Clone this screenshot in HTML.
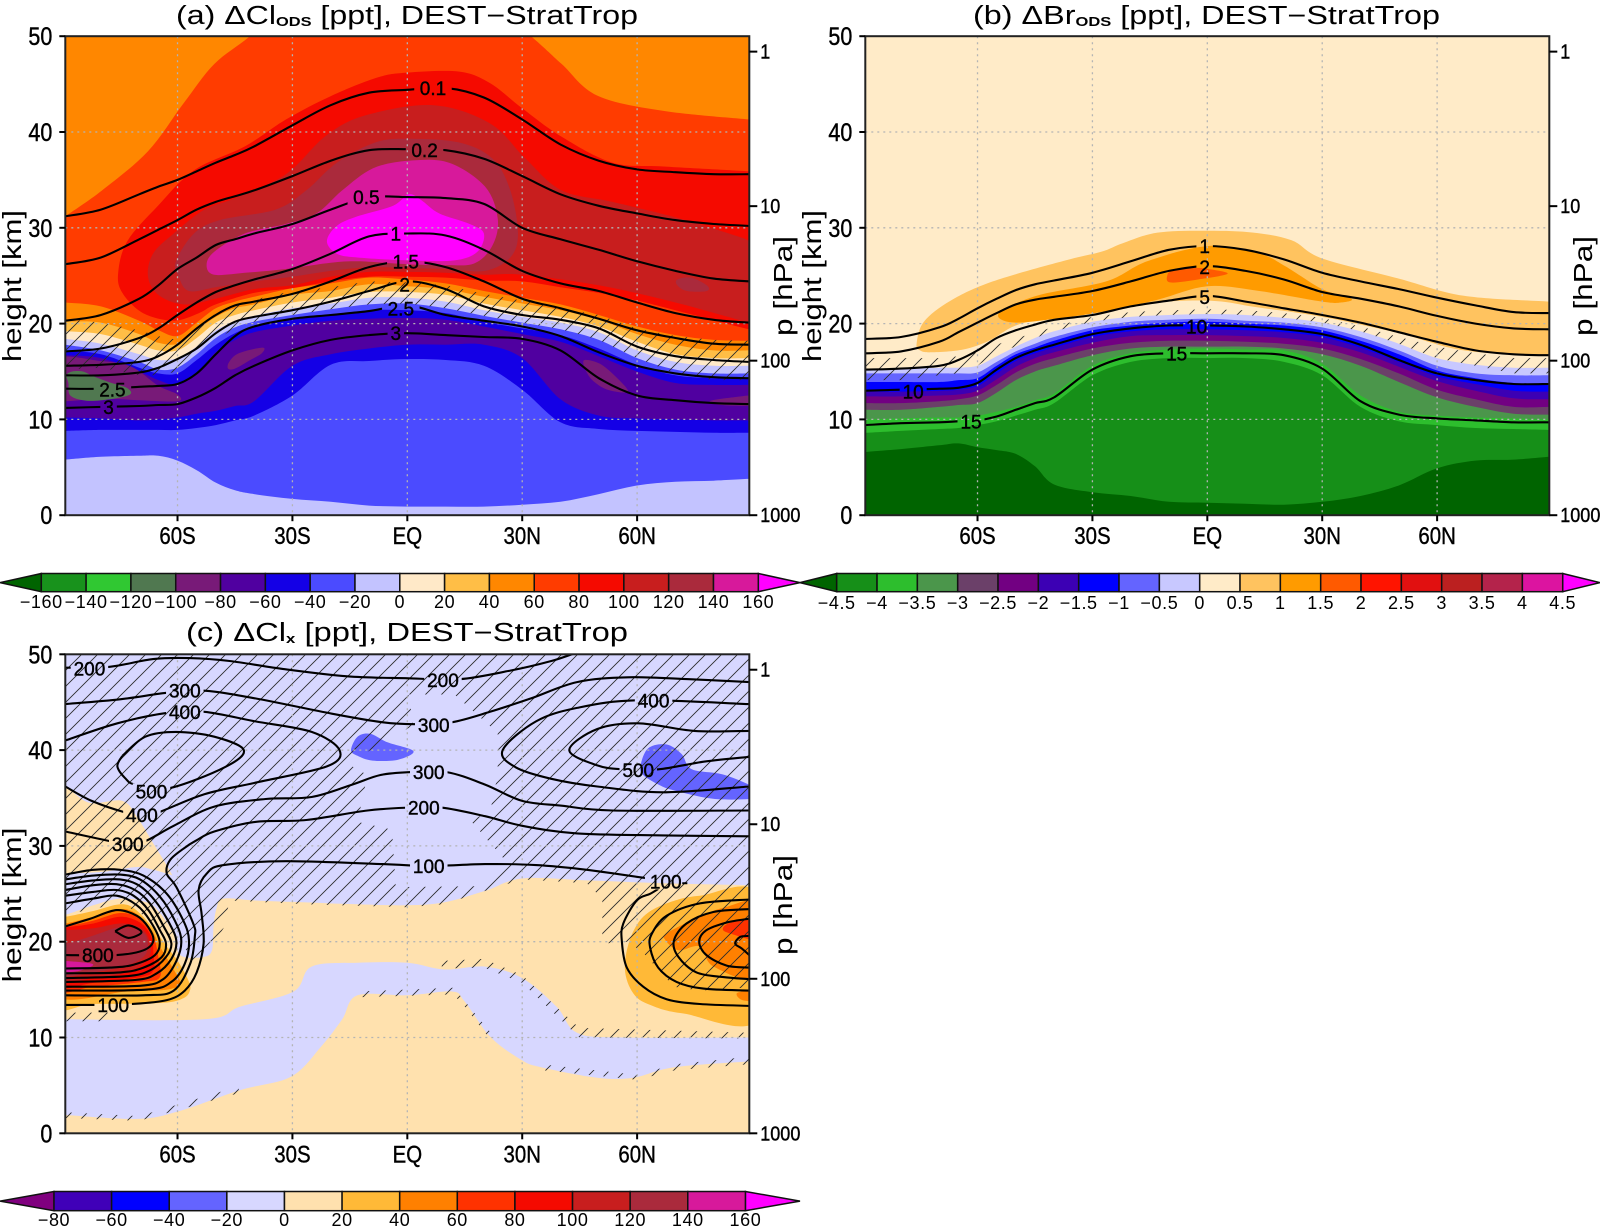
<!DOCTYPE html>
<html lang="en">
<head>
<meta charset="utf-8">
<title>Zonal mean chlorine and bromine differences, DEST minus StratTrop</title>
<style>
html,body{margin:0;padding:0;background:#fff;}
svg{display:block;font-family:"Liberation Sans",sans-serif;}
</style>
</head>
<body>
<svg id="fig" xmlns="http://www.w3.org/2000/svg" width="1600" height="1227" viewBox="0 0 1600 1227">
  <rect width="1600" height="1227" fill="#fff"/>
  <defs>
    <pattern id="hatch" patternUnits="userSpaceOnUse" width="16" height="16">
      <path d="M-1,1 L1,-1 M0,16 L16,0 M15,17 L17,15" stroke="#2a2a2a" stroke-width="0.85" fill="none"/>
    </pattern>
  </defs>
  <g id="panels"></g>
  <text x="176" y="24" font-size="25.5" textLength="462" lengthAdjust="spacingAndGlyphs">(a) ΔCl<tspan font-size="13" font-weight="bold" dy="2">ODS</tspan><tspan dy="-2"> [ppt], DEST−StratTrop</tspan></text>
  <text x="973" y="24" font-size="25.5" textLength="467" lengthAdjust="spacingAndGlyphs">(b) ΔBr<tspan font-size="13" font-weight="bold" dy="2">ODS</tspan><tspan dy="-2"> [ppt], DEST−StratTrop</tspan></text>
  <text x="186" y="641" font-size="25.5" textLength="442" lengthAdjust="spacingAndGlyphs">(c) ΔCl<tspan font-size="13" font-weight="bold" dy="2">x</tspan><tspan dy="-2"> [ppt], DEST−StratTrop</tspan></text>
  <text transform="translate(21,286) rotate(-90)" text-anchor="middle" font-size="26" textLength="152" lengthAdjust="spacingAndGlyphs">height [km]</text>
  <text transform="translate(821,286) rotate(-90)" text-anchor="middle" font-size="26" textLength="152" lengthAdjust="spacingAndGlyphs">height [km]</text>
  <text transform="translate(21,905) rotate(-90)" text-anchor="middle" font-size="26" textLength="155" lengthAdjust="spacingAndGlyphs">height [km]</text>
  <text transform="translate(792,286) rotate(-90)" text-anchor="middle" font-size="26" textLength="100" lengthAdjust="spacingAndGlyphs">p [hPa]</text>
  <text transform="translate(1592,286) rotate(-90)" text-anchor="middle" font-size="26" textLength="100" lengthAdjust="spacingAndGlyphs">p [hPa]</text>
  <text transform="translate(792,905) rotate(-90)" text-anchor="middle" font-size="26" textLength="100" lengthAdjust="spacingAndGlyphs">p [hPa]</text>
</svg>
<script>
/* ---------- shared axis values ---------- */
const latGrid=[-89.3,-80,-70,-65,-60,-55,-50,-45,-40,-30,-20,-10,0,10,20,30,40,50,60,70,80,89.3];
const latTicks=[-60,-30,0,30,60];
const latTickLabels=['60S','30S','EQ','30N','60N'];
const heightTicks=[0,10,20,30,40,50];
const pressureTicks=[1,10,100,1000];

/* ---------- panel (a) Cl_ODS: contours on latGrid, km ---------- */
const aC01=[31.2,31.9,33.5,34.3,35.0,35.9,36.8,37.6,38.5,40.7,42.8,44.1,44.4,44.6,43.6,41.3,38.7,37.0,36.1,35.8,35.6,35.6];
const aC02=[26.2,26.9,28.8,29.8,30.8,31.9,32.7,33.3,33.9,35.4,37.0,38.1,38.2,38.1,37.2,35.4,33.5,32.3,31.5,30.8,30.4,30.2];
const aC05=[20.3,20.9,22.6,24.0,25.7,26.9,28.2,28.8,29.4,30.4,31.9,33.2,33.2,33.1,32.5,30.0,28.8,27.7,26.5,25.5,24.7,24.4];
const aC10=[17.1,17.4,18.5,19.5,20.9,22.2,23.3,24.0,24.6,25.7,27.3,29.1,29.4,29.2,27.7,25.5,24.2,23.4,22.2,21.1,20.4,20.1];
const aC15=[15.6,15.7,16.0,16.6,17.8,19.5,20.9,21.9,22.3,23.1,24.4,25.9,26.5,25.9,24.4,22.6,21.6,20.5,19.3,18.5,17.9,17.8];
const aC20=[14.6,14.6,14.9,15.4,16.3,17.4,19.0,20.2,20.7,21.4,22.3,23.4,24.4,23.6,21.8,20.9,20.4,19.5,17.6,16.6,16.2,16.0];
const aC25=[13.2,13.2,13.4,13.5,13.7,14.8,16.8,18.7,19.7,20.5,20.9,21.3,21.9,20.9,20.3,19.7,18.7,17.0,15.6,14.8,14.4,14.3];
const aC30=[11.2,11.3,11.4,11.5,11.6,12.3,13.3,14.6,15.6,17.2,18.3,18.8,19.0,18.8,18.6,18.4,17.2,14.3,12.5,12.0,11.7,11.6];
const aLabels=[['0.1',6.7,44.6],['0.2',4.5,38.1],['0.5',-10.7,33.2],['1',-3,29.4],['1.5',-0.4,26.5],['2',-0.7,24.1],['2.5',-1.7,21.6],['3',-3,19],['2.5',-77,13.1],['3',-78,11.3]];
/* panel (a) filled levels */
const aBand40=[22.2,21.8,20.3,19.3,18.7,20.1,21.6,22.3,22.8,23.7,24.2,24.8,24.6,24.2,23.4,22.7,22.0,20.9,19.7,18.8,18.3,18.2];
const aBand20=[20.2,20.1,18.9,18.0,17.9,19.3,20.7,21.6,22.0,23.0,23.4,24.1,23.9,23.6,22.8,22.1,21.4,20.4,18.9,17.8,17.2,17.2];
const aBand0=[19.2,18.9,17.8,17.2,17.2,18.5,20.1,20.9,21.4,22.2,22.7,23.3,23.3,23.0,22.1,21.4,20.7,19.7,18.1,16.8,16.4,16.4];
const aBandM20=[18.4,17.9,16.8,16.2,16.4,17.6,19.3,20.2,20.8,21.6,22.1,22.7,22.7,22.3,21.4,20.7,20.1,19.1,17.2,16.0,15.6,15.6];
const aBandM40=[17.8,17.2,16.0,15.2,15.4,16.8,18.5,19.6,20.2,20.9,21.5,22.0,22.1,21.6,20.8,20.1,19.4,18.3,16.4,15.2,14.8,14.8];
const aBandM60=[17.2,16.8,15.4,14.8,14.8,16.2,17.8,19.0,19.7,20.4,20.9,21.4,21.4,21.1,20.2,19.5,18.8,17.4,15.7,14.6,14.3,14.3];
const aBandM80=[16.7,16.4,15.0,14.1,13.6,14.8,17.0,18.3,19.1,19.8,20.3,20.5,20.6,20.4,19.7,18.9,18.1,16.6,15.0,13.8,13.6,13.6];
const aLowM60=[10.2,10.1,9.9,10.0,10.2,10.6,10.9,11.4,11.9,15.6,16.8,17.4,17.8,17.8,17.8,16.4,12.1,10.4,10.1,10.0,9.9,9.9];
const aLowM40=[8.8,8.9,8.9,8.9,8.9,9.1,9.4,9.9,10.4,12.5,15.7,16.1,16.3,16.2,15.6,13.1,9.7,9.0,8.8,8.7,8.6,8.6];
const aLowM20=[5.8,6.1,6.2,6.2,5.7,4.7,3.4,2.6,2.2,1.7,1.4,1.0,0.9,0.9,0.9,1.1,1.4,2.2,3.1,3.5,3.6,3.8];
const aLevel60=[[-89.3,31.2],[-79.7,33.9],[-67.7,38.0],[-58.4,43.0],[-50.4,47.1],[-41.1,50],[-30,54],[20,54],[32.3,50],[40.3,47.1],[49.6,43.8],[66.9,42.2],[89.3,41.3]];
const aLevel80=[[-75.5,25.3],[-73.1,28.6],[-65.1,32.3],[-55.7,36],[-42.4,38.5],[-31.7,41.3],[-19.7,43.8],[-7.7,45.7],[0,46.2],[13.6,46.3],[21.6,45.1],[29.6,42.6],[40.3,39.5],[53.6,36.8],[66.9,36.4],[89.3,35.9],[93,35.8],[93,19.3],[89.3,19.4],[70,21.4],[60,22.4],[50,23.2],[40,23.8],[30,24.4],[20,24.5],[10,24.8],[0,24.9],[-10,24.9],[-20,24.4],[-30,23.7],[-40,23.2],[-50,22],[-54.4,21.1],[-61,20.3],[-69,21.1],[-74.4,23.2]];
const aLevel100=[[-67.7,24.9],[-66.4,27.3],[-61,29.4],[-53,31.9],[-45,33.1],[-31.7,35.6],[-21,39.7],[-10.4,41.8],[6.9,42.8],[21.6,40.9],[30.9,37.2],[40.3,33.9],[53.6,32.7],[70.9,31],[85.6,29.2],[89.3,28.6],[93,27.5],[93,20],[89.3,20.1],[70,22.2],[50,24],[30,25.1],[20,25.1],[10,25.3],[0,25.4],[-10,25.4],[-20,24.9],[-30,24],[-40,23.6],[-50,22.6],[-58.4,22],[-65,23]];
const aLevel120=[[-59.7,24.9],[-60.4,26.5],[-55.7,29.4],[-49,30.8],[-34.4,31.9],[-26.4,33.9],[-18.4,36.8],[-8.4,38.9],[0.3,39.3],[13.6,38.9],[22.3,37.2],[26.9,33.9],[28.9,29.4],[26.9,26.9],[20.3,25.5],[10,25.7],[0,25.8],[-10,25.9],[-20,25.5],[-30,24.9],[-40,24.4],[-50,23.8],[-57,23.4]];
const aPatch120=[[70.5,24.6],[74,24.8],[78.2,24],[78.2,23.4],[73,23.4],[70.5,24]];
const aLevel140=[[-52.4,26.1],[-50.4,27.5],[-42.4,29.4],[-31.7,30.4],[-23.7,31.5],[-17,33.9],[-9,36.2],[0.3,37],[10.9,36.8],[20.3,34.3],[23.6,31],[22.3,28.2],[17.6,26.3],[10,26.1],[0,26.2],[-13,26.5],[-21,26.3],[-31.7,25.7],[-42.4,25.3],[-50.4,25.1]];
const aLevel160=[[-21,28.6],[-18.4,30.2],[-13,31.2],[-3.7,32.3],[0.3,33.5],[3.6,32.9],[8.3,31.5],[16.3,30.4],[20,29.4],[18.3,27.5],[12.3,26.6],[0.3,26.6],[-13,26.9],[-18.4,27.3]];
const aPatchM100W=[[-92,16.3],[-80,16.1],[-72,15.5],[-65,13.5],[-60,12.6],[-60,11.9],[-70,12],[-80,12.2],[-92,12.2]];
const aPatchM100S=[[-46.8,15.3],[-46.5,16],[-44,16.9],[-37.8,17.5],[-38,16.9],[-41,16.2],[-45,15.3]];
const aPatchM100N=[[46.3,16.2],[50.3,15.8],[54.3,14.5],[57.6,12.9],[52.3,13.1],[48.3,14.1],[46.3,15.4]];
const aPatchM100E=[[79,11.9],[85,12.3],[92,12.5],[92,11.5],[82,11.5]];
const aPatchM120=[[-89,14.6],[-87.5,15],[-84.7,15],[-82,14.5],[-78,13.9],[-73.3,13.3],[-72.4,12.6],[-77.7,12.1],[-83.8,11.95],[-88,12.5],[-88.5,13.8]];
const aHatchTop=[20.5,20.1,19.3,18.7,18.3,19.5,21.1,21.9,22.5,23.4,23.8,24.4,24.3,24.0,23.1,22.4,21.6,20.9,19.5,18.7,18.3,18.2];
const aHatchBottom=[15.2,15.4,14.6,14.6,15.0,16.6,18.3,19.5,20.2,20.9,21.5,22.0,22.1,21.6,20.8,20.1,19.4,18.3,16.4,14.8,14.1,14.1];

/* ---------- panel (b) Br_ODS ---------- */
const bC1=[18.4,18.6,19.6,20.5,21.6,22.6,23.5,24.1,24.5,25.3,26.5,27.7,28.1,27.7,26.7,25.3,24.4,23.6,22.7,21.9,21.2,21.1];
const bC2=[16.9,17.1,18.1,19.1,20.1,21.1,22.0,22.5,22.8,23.4,24.4,25.5,26.0,25.5,24.6,23.3,22.6,21.8,20.8,20.0,19.5,19.4];
const bC5=[15.2,15.3,15.6,16.2,17.2,18.5,19.3,19.9,20.4,20.9,21.8,22.4,22.9,22.3,21.6,20.9,20.1,19.1,18.1,17.2,16.8,16.7];
const bC10=[13.0,13.1,13.2,13.3,13.8,15.2,16.4,17.2,17.8,18.9,19.5,19.8,19.8,19.7,19.4,18.9,17.8,16.2,14.8,14.1,13.7,13.7];
const bC15=[9.4,9.6,9.7,9.8,9.9,10.3,11.0,11.7,12.3,15.2,16.6,16.9,16.9,16.9,16.7,15.3,11.9,10.5,10.1,9.9,9.7,9.7];
const bLabels=[['1',-0.7,28.1],['2',-0.7,25.9],['5',-0.7,22.8],['10',-2.8,19.7],['15',-8,16.9],['10',-76.8,12.9],['15',-61.7,9.8]];
const bLevel05=[[-75.9,17.9],[-74,20.2],[-67,22.4],[-56,24.4],[-37,26.6],[-27.7,27.5],[-22,28.4],[-13,29.5],[0.3,29.7],[12,29.5],[22,28.7],[30,26.8],[50,24.7],[67,22.9],[89.3,22.3],[93,22.2],[93,16.5],[89.3,16.6],[67,17.2],[50,19],[30,20.7],[13,21.7],[0,22.4],[-20,22],[-39.7,20.7],[-50,19.8],[-57,18.2],[-63.7,17.3],[-72,17],[-75,17.2]];
const bLevel1=[[-54.4,20.6],[-53,21.5],[-43.7,23],[-26.4,24.4],[-15.7,26.5],[0.3,28.1],[13.6,27.3],[20.3,26],[30,23.6],[37.6,22.6],[34.9,22.2],[30,22.3],[13.6,23.4],[0,23.9],[-13,22.5],[-26.4,21.3],[-39.7,20.5],[-50,20.1]];
const bLevel15=[[-10.4,25.1],[-9,25.5],[-3.7,25.8],[0.3,25.7],[5.3,25.2],[-2.4,24.6],[-9.7,24.3]];
const bLav=[15.3,15.3,15.4,15.4,15.6,16.6,17.6,18.5,19.2,20.2,20.7,20.9,21.0,20.9,20.6,20.1,19.2,17.9,16.4,15.7,15.4,15.4];
const bM1=[14.8,14.8,14.8,14.8,14.9,16.0,17.1,17.9,18.6,19.6,20.2,20.4,20.5,20.3,20.1,19.6,18.6,17.2,15.6,14.8,14.6,14.6];
const bM15=[13.9,13.9,13.9,14.1,14.3,15.6,16.8,17.5,18.2,19.3,19.8,20.1,20.2,20.0,19.8,19.3,18.2,16.8,15.1,14.3,13.8,13.7];
const bM2=[12.9,12.9,13.0,13.1,13.5,14.8,16.1,16.9,17.5,18.6,19.2,19.4,19.4,19.3,19.1,18.6,17.5,16.0,14.5,13.7,13.0,12.9];
const bM25=[12.4,12.4,12.5,12.6,13.0,14.2,15.5,16.4,17.0,18.0,18.7,18.8,18.8,18.7,18.5,18.0,17.0,15.5,14.0,13.0,12.2,12.1];
const bM3=[11.7,11.7,11.9,12.1,12.5,13.6,14.9,15.8,16.4,17.4,18.0,18.2,18.2,18.1,17.9,17.4,16.3,14.8,13.1,12.1,11.3,11.3];
const bM35=[11.0,11.0,11.3,11.5,11.7,12.8,14.1,15.0,15.6,16.7,17.4,17.6,17.6,17.6,17.4,16.8,15.6,13.9,12.3,11.3,10.6,10.5];
const bM4=[10.0,10.1,10.2,10.2,10.4,10.8,11.3,12.0,12.7,15.6,16.9,17.3,17.4,17.3,17.2,15.8,12.5,10.8,10.4,10.2,10.1,10.0];
const bM45=[8.6,8.8,9.0,9.1,9.4,9.8,10.4,11.0,11.7,14.6,16.0,16.4,16.4,16.4,16.0,14.6,11.3,9.8,9.4,9.1,9.0,8.9];
const bDeep=[6.6,6.9,7.3,7.5,7.1,6.8,6.4,5.1,3.2,2.4,2.0,1.4,1.3,1.2,1.1,1.4,2.0,3.1,4.9,5.7,5.8,6.1];
const bHatchTop=[16.4,16.4,16.4,16.6,17.0,17.8,18.5,19.0,19.7,20.7,21.2,21.4,21.5,21.4,21.1,20.6,19.7,18.6,17.6,16.9,16.4,16.4];
const bHatchBottom=[14.1,14.1,14.6,14.8,15.6,17.0,17.6,18.5,19.2,20.2,20.7,20.9,21.0,20.9,20.6,20.1,19.2,17.9,16.4,15.6,14.8,14.8];

/* ---------- panel (c) Cl_x contours as [lat,km] ---------- */
const c200Top=[[-89.3,48.6],[-77.7,48.7],[-66.4,49.5],[-57,49.6],[-46.4,49.3],[-33,48.5],[-15.7,47.7],[0.3,47.5],[13.6,47.4],[26.9,48.3],[37.6,49.3],[44.3,50.2]];
const c300Top=[[-89.3,44.8],[-75,45.3],[-62.4,46],[-53,46.2],[-39.7,45.4],[-19.7,43.8],[-6.4,42.9],[2.3,42.7],[11.6,42.9],[21.6,44],[32.3,45.4],[44.3,47.1],[57.6,47.6],[73.6,47.4],[89.3,47.1]];
const c400West=[[-89.3,41],[-75.7,42.8],[-62.4,43.9],[-53,44],[-39.7,43],[-25,41.9],[-17.7,40],[-21,38.3],[-39.7,36.6],[-53,35.4],[-65,33.5],[-69,33.2],[-73.7,33.5],[-82.4,34.7],[-89.3,36.2]];
const c500West=[[-74.4,39.4],[-68.4,41.4],[-60.4,41.9],[-50.4,41.4],[-42.7,40],[-47.7,38.2],[-62.4,36],[-71,36.4],[-73.5,37],[-75.7,38.3],[-74.4,39.4]];
const c400East=[[89.3,44.8],[60.3,45.2],[44.3,44.4],[33.6,43],[24.9,40],[28.3,38.2],[37.6,37],[49.6,36.2],[66.9,35.6],[89.3,36.2]];
const c500East=[[89.3,42],[74.9,42],[60.3,42.8],[49.6,42.2],[42.3,40],[49.6,38.4],[56.3,38],[65.6,38],[77.6,38.8],[89.3,39.3]];
const c300Mid=[[-89.3,31.5],[-77.7,30.5],[-73,30.2],[-68.4,30.5],[-61,32.1],[-50.4,34.1],[-37,34.9],[-25,35.1],[-14.4,36.4],[-7,37.4],[1,37.7],[10.3,37.7],[20.3,36.4],[30,34.7],[40.3,34.2],[53.6,33.7],[89.3,33.7]];
const c200Mid=[[-89.3,14.4],[-68.9,14.4],[-61,14.9],[-56.7,17.7],[-55.5,20.5],[-55.9,21.9],[-60.3,25.7],[-62.8,27.1],[-62,28.5],[-58.5,29.7],[-55,30.6],[-50.4,31.5],[-39.7,32.5],[-26.4,32.7],[-10.4,33.7],[0.3,34],[8.9,34],[20.3,33.1],[30,32.1],[44.3,31.3],[66.9,31.1],[89.3,31]];
const c100Mid=[[-89.3,13.4],[-81.5,13.4],[-72,13.5],[-62.8,13.9],[-58.1,14.9],[-55,16.8],[-53.2,19.8],[-53.7,22.9],[-54.5,25.4],[-52.4,27.1],[-48,28],[-31.7,28.4],[-6.4,28.1],[5.6,27.9],[20.3,28.1],[33.6,28],[46.9,27.5],[62.9,26.6]];
const c100East=[[65.5,25.5],[63.4,25],[59.9,24.3],[56.4,21.9],[56,20.1],[57.3,17.3],[61.6,15.3],[67.7,14],[76.4,13.5],[89.3,13.3]];
const cWest1=[[-89.3,27],[-82,27.5],[-75,27.5],[-68.9,26.9],[-62.8,25],[-58.5,22.2],[-57,20.1],[-58.1,17.7],[-61.6,15.8],[-68,15],[-89.3,14.9]];
const cWest2=[[-89.3,26.5],[-82,26.9],[-75,27],[-69.8,26.5],[-64.6,24.7],[-60.7,22.2],[-59,20.1],[-60.3,18],[-63.7,16.1],[-69.8,15.4],[-89.3,15.3]];
const cWest3=[[-89.3,26],[-82,26.4],[-75,26.5],[-70.2,25.9],[-65.9,24.3],[-62.1,21.9],[-60.3,20],[-61.6,18.2],[-65.4,16.7],[-71.1,16],[-89.3,15.8]];
const cWest4=[[-89.3,25.4],[-82,25.9],[-75.9,26],[-71.1,25.4],[-67.2,24],[-63.5,21.5],[-61.6,19.8],[-63,18.4],[-67.2,17],[-73.3,16.4],[-89.3,16.2]];
const cWest5=[[-89.3,24.8],[-82,25.2],[-75.9,25.4],[-71.5,24.8],[-67.6,23.3],[-64.6,21.2],[-63,19.8],[-64.1,18.4],[-68.9,17.3],[-75,16.8],[-89.3,16.7]];
const cWest6=[[-89.3,24],[-82,24.5],[-75.9,24.8],[-70.6,23.8],[-67.2,22.2],[-64.7,20.1],[-65.9,18.6],[-71.5,17.6],[-77.6,17.3],[-89.3,17.2]];
const cWest7=[[-89.3,21.6],[-82.8,22.4],[-75.9,23.3],[-70.6,22.7],[-67.6,21.5],[-66.3,20.1],[-68.9,19.1],[-75.9,18.6],[-89.3,18.6]];
const cWest8=[[-76.3,21.1],[-72.8,21.7],[-69.4,21],[-72.8,20.4],[-76.3,21.1]];
const cEast1=[[89.3,24.4],[76.4,24],[67.7,22.7],[63.8,20.8],[63.4,19.4],[65.5,17.3],[70.3,15.8],[77.3,15.1],[89.3,14.9]];
const cEast2=[[89.3,23.4],[79.9,23.1],[72.9,21.9],[69.6,20.1],[70.8,18.4],[75.5,16.8],[82.5,16.3],[89.3,16.1]];
const cEast3=[[89.3,22.4],[83.4,22],[78.1,21.2],[76.2,20],[78.1,18.6],[83.4,17.5],[89.3,17.3]];
const cEast4=[[89.3,20.6],[86.9,20.5],[85.6,19.8],[87.3,19.3],[89.3,18.6]];
const cLabels=[['200',-83,48.5],['200',9.3,47.3],['300',-58.1,46.2],['300',6.9,42.6],['300',5.6,37.7],['300',-73,30.2],['400',-58.1,44],['400',-69.3,33.2],['400',64.3,45.2],['500',-66.8,35.7],['500',60.3,37.9],['200',4.3,34],['100',5.6,27.9],['100',-76.8,13.4],['100-',68.3,26.3],['800',-80.8,18.6]];
/* panel (c) filled regions */
const cUpperLav=[[-89.3,36.2],[-83,34.5],[-74.4,34.7],[-70.4,32.9],[-66.4,30.3],[-63,28.1],[-61.3,26.9],[-61.1,26.9],[-66.3,27.5],[-70.6,27.8],[-79.4,27.3],[-89.3,27.1],[-92,27.1],[-92,22.8],[-89.3,22.8],[-82,23.8],[-75,24.5],[-68,24.1],[-64.6,23],[-61.1,20.9],[-59.3,18.6],[-53.3,18.4],[-51,19.1],[-50.6,21.5],[-49.8,23.5],[-48,24.5],[-39.7,24.3],[-26.4,24.1],[-13,23.9],[0,23.8],[9.6,24.1],[20.3,25.3],[30,26.6],[46.9,26.4],[66.9,26.1],[89.3,25.9],[93,25.9],[93,53],[-93,53],[-93,36.2]];
const cLowerLav=[[-92,11.9],[-89.3,11.9],[-53,11.9],[-43.7,13.2],[-29.7,14.8],[-25,17.4],[-13,17.8],[0,17.8],[9.6,17.1],[20.3,17.4],[30,16.2],[39,13.2],[44.3,10.5],[56.3,10],[89.3,10],[93,10],[93,7.5],[89.3,7.5],[69.7,6.9],[58.9,5.8],[49.6,5.8],[34.9,6.9],[29.6,7.7],[21.6,10.1],[14.9,13.8],[11.6,14.8],[0,14.4],[-13,14.4],[-17,11.9],[-22.4,9.1],[-30.4,5.9],[-43.7,4.5],[-59.7,2.3],[-70.4,1.5],[-89,1.9],[-92,1.9]];
const cBlue1=[[-14.7,40],[-13,41.4],[-9.7,41.7],[-5.1,40.8],[1.6,39.9],[-2.4,39],[-9.1,38.9],[-13,39.4]];
const cBlue2=[[60.9,38.4],[62.9,40.2],[67.6,40.6],[71.6,39.6],[74.3,38],[82.9,37.4],[92,35.8],[92,35],[80.3,34.9],[69.6,35.8],[65.6,36.4],[61.6,37.4]];
const cW20=[[-92,22.6],[-89.3,22.6],[-82,23.2],[-75,23.9],[-71.1,23.4],[-66.3,21.4],[-62.8,19.5],[-59.8,17.9],[-57.2,16],[-56.7,15],[-58.5,14.1],[-64.6,13.6],[-82,13.5],[-92,13.5]];
const cW40=[[-92,21.9],[-89.3,21.9],[-82,22.6],[-75,23.4],[-70.6,22.9],[-66.7,21.2],[-64.6,19.5],[-60.7,16.9],[-59.4,15.6],[-62.8,15],[-73.3,14.8],[-92,14.4]];
const cW60=[[-92,21.6],[-89.3,21.6],[-82,22.2],[-75,23],[-69.7,22.4],[-66.3,20.5],[-65,18.4],[-64.6,16.3],[-69,15.8],[-82,15.3],[-92,15.1]];
const cW80=[[-92,21.5],[-89.3,21.5],[-82,21.9],[-75,22.6],[-69.8,22],[-66.8,20.5],[-66.3,18.8],[-66.3,17],[-69.8,16.3],[-82,15.7],[-92,15.5]];
const cW100=[[-92,21.2],[-89.3,21.2],[-82,21.4],[-75,21.9],[-69.8,21.5],[-67.4,20.2],[-67.4,18.4],[-72.4,16.9],[-82,16.2],[-92,16]];
const cW120=[[-92,19.8],[-89.3,19.8],[-84.6,20.3],[-79.4,21],[-75,21.5],[-69.8,21.2],[-67.9,20.2],[-68.5,18.6],[-73.3,17.5],[-82,16.8],[-92,16.5]];
const cW140=[[-92,17.9],[-86.4,17.9],[-82,17.6],[-86.4,16.9],[-92,16.9]];
const cE20=[[92,24.8],[76.4,24.8],[67.7,24],[61.6,22.6],[58.1,20.2],[56.8,17.1],[59,14.6],[63.4,13.4],[72.1,12.5],[92,12]];
const cE40=[[92,23.8],[83,23.6],[75.2,22.4],[67.8,20.9],[67.3,20.2],[70.8,19.1],[76.4,19.5],[80,17.4],[92,16.3]];
const cE40Low=[[86,14.6],[89,14.9],[92,15],[92,13.9],[87.5,13.9]];
const cE60=[[92,22.4],[84.6,22],[82.4,21.4],[84,20.9],[92,20.2]];
/* panel (c) significance hatching regions */
const cHatchMain=[[-92,52],[92,52],[92,15.3],[76.5,14.9],[69.6,15.3],[61.7,18.8],[57.6,20],[50.9,19.8],[50.9,24.5],[46.9,26.1],[30,26.5],[20.3,25.3],[9.6,23.9],[0,23.6],[-26.4,23.9],[-46.4,24.3],[-48,21.4],[-55,17],[-59.2,20.2],[-64.6,21.2],[-68,22.6],[-75,24],[-89.4,22.8],[-92,22.8]];
const cHatchHole=[[0.3,45.8],[12.3,45.8],[23.6,41.8],[23.6,37.4],[21.6,33.5],[16.4,32.7],[26,28.3],[20,25.8],[-3,25.7],[-4,31.7],[-13,32.5],[-10.4,37.4],[-15.7,38.6],[1.6,42.6]];
const cHatchStrip1=[[-89.3,12.6],[-78,12.6],[-78,11.7],[-89.3,11.7]];
const cHatchStrip2=[[9,18],[20,18.2],[30,16.5],[44.9,11],[89.3,10.5],[89.3,9.9],[44.9,10],[30,15.7],[20,17.3],[9,17.2]];
const cHatchStrip3=[[35,7.2],[60,6.1],[70,7.2],[89.3,8],[89.3,7.2],[70,6.6],[60,5.6],[35,6.6]];
const cHatchStrip4=[[-17,13],[-13,14.8],[12,15.2],[15,13.8],[22,10.4],[22,9.6],[15,13.2],[12,14.5],[-13,14.2],[-17,12.2]];
const cHatchStrip5=[[-89.3,2.2],[-70,1.8],[-44,4.9],[-44,4.2],[-70,1.3],[-89.3,1.6]];

/* ---------- colour bars ---------- */
const barALabels=['−160','−140','−120','−100','−80','−60','−40','−20','0','20','40','60','80','100','120','140','160'];
const barAColors=['#006400','#18921c','#30c832','#507850','#781a78','#5000a0','#1400e6','#4b4bff','#c3c3ff','#ffe9c8','#ffbe46','#ff8700','#ff3c00','#f50a00','#c81e1e','#aa2a3c','#d7199b','#ff00ff'];
const barBLabels=['−4.5','−4','−3.5','−3','−2.5','−2','−1.5','−1','−0.5','0','0.5','1','1.5','2','2.5','3','3.5','4','4.5'];
const barBColors=['#006400','#168f18','#2dbe2d','#4b964b','#6b4069','#720082','#3c00b4','#0000ff','#6464ff','#c8c8ff','#ffebc8','#ffc35f','#ff9b00','#ff5a00','#ff1400','#e11010','#bb2020','#b4234b','#dc14a0','#ff00ff'];
const barCLabels=['−80','−60','−40','−20','0','20','40','60','80','100','120','140','160'];
const barCColors=['#80007f','#4000b8','#0000ff','#6464ff','#d7d7ff','#ffe1ae','#ffb937','#ff8000','#ff3200','#f50a00','#c81e1e','#aa2a3c','#d7199b','#ff00ff'];

/* ---------- helpers ---------- */
const NS='http://www.w3.org/2000/svg';
const root=document.getElementById('panels');
function mk(tag,parent,name){
  const el=document.createElementNS(NS,tag);
  
  
  parent.appendChild(el);
  return el;
}
function zip(arr){return latGrid.map((la,i)=>[la,arr[i]]);}
function openPath(p){
  let d='M'+p[0][0].toFixed(1)+','+p[0][1].toFixed(1);
  for(let i=0;i<p.length-1;i++){
    const a=p[Math.max(i-1,0)],b=p[i],c=p[i+1],e=p[Math.min(i+2,p.length-1)];
    d+='C'+(b[0]+(c[0]-a[0])/6).toFixed(1)+','+(b[1]+(c[1]-a[1])/6).toFixed(1)+' '+(c[0]-(e[0]-b[0])/6).toFixed(1)+','+(c[1]-(e[1]-b[1])/6).toFixed(1)+' '+c[0].toFixed(1)+','+c[1].toFixed(1);
  }
  return d;
}
function closedPath(p){
  const n=p.length;
  let d='M'+p[0][0].toFixed(1)+','+p[0][1].toFixed(1);
  for(let i=0;i<n;i++){
    const a=p[(i-1+n)%n],b=p[i],c=p[(i+1)%n],e=p[(i+2)%n];
    d+='C'+(b[0]+(c[0]-a[0])/6).toFixed(1)+','+(b[1]+(c[1]-a[1])/6).toFixed(1)+' '+(c[0]-(e[0]-b[0])/6).toFixed(1)+','+(c[1]-(e[1]-b[1])/6).toFixed(1)+' '+c[0].toFixed(1)+','+c[1].toFixed(1);
  }
  return d+'Z';
}
function polyPath(p){return 'M'+p.map(q=>q[0].toFixed(1)+','+q[1].toFixed(1)).join('L')+'Z';}
function label(parent,name,txt,x,y,size,sx,anchor,weight){
  const t=mk('text',parent,name);
  t.setAttribute('transform','translate('+x+','+y+') scale('+sx+',1)');
  t.setAttribute('font-size',size);
  t.setAttribute('text-anchor',anchor);
  t.setAttribute('fill','#000');
  t.setAttribute('stroke','#000');
  t.setAttribute('stroke-width',weight);
  t.textContent=txt;
  return t;
}

function makePanel(id,left,bottom,baseColor){
  const pxLat=3.83, pxKm=9.58, w=684, h=479;
  const sx=la=>left+(la+89.3)*pxLat;
  const sy=km=>bottom-km*pxKm;
  const g=mk('g',root,'panel-'+id);
  const defs=mk('defs',g,'panel-'+id+'-defs');
  const clip=mk('clipPath',defs,'plot-clip-'+id);
  clip.setAttribute('id','clip-'+id);
  const cr=mk('rect',clip,'plot-clip-rect-'+id);
  cr.setAttribute('x',left);cr.setAttribute('y',bottom-h);cr.setAttribute('width',w);cr.setAttribute('height',h);
  const mask=mk('mask',defs,'contour-label-mask-'+id);
  mask.setAttribute('id','mask-'+id);
  mask.setAttribute('maskUnits','userSpaceOnUse');
  mask.setAttribute('x',0);mask.setAttribute('y',0);mask.setAttribute('width',1600);mask.setAttribute('height',1227);
  const mr=mk('rect',mask,'contour-label-mask-base-'+id);
  mr.setAttribute('width',1600);mr.setAttribute('height',1227);mr.setAttribute('fill','#fff');
  const plot=mk('g',g,'plot-area-'+id);
  plot.setAttribute('clip-path','url(#clip-'+id+')');
  const base=mk('rect',plot,'fill-base-'+id);
  base.setAttribute('x',left);base.setAttribute('y',bottom-h);base.setAttribute('width',w);base.setAttribute('height',h);base.setAttribute('fill',baseColor);
  const proj=p=>p.map(q=>[sx(q[0]),sy(q[1])]);
  const P={id,sx,sy,g,plot,mask,left,bottom,w,h,proj};
  P.band=function(curve,color,name){
    const pts=proj(curve);
    const el=mk('path',plot,name);
    el.setAttribute('d',openPath(pts)+'L'+(left+w+6)+','+(bottom+6)+'L'+(left-6)+','+(bottom+6)+'Z');
    el.setAttribute('fill',color);
  };
  P.blob=function(points,color,name){
    const el=mk('path',plot,name);
    el.setAttribute('d',closedPath(proj(points)));
    el.setAttribute('fill',color);
  };
  P.hatchPoly=function(points,name,hole){
    const el=mk('path',plot,name);
    el.setAttribute('d',polyPath(proj(points))+(hole?polyPath(proj(hole)):''));
    el.setAttribute('fill','url(#hatch)');
    el.setAttribute('fill-rule','evenodd');
  };
  P.grid=function(){
    const gg=mk('g',plot,'grid-'+id);
    latTicks.forEach(function(la){
      const l=mk('line',gg,'grid-line-lat');
      l.setAttribute('x1',sx(la));l.setAttribute('x2',sx(la));l.setAttribute('y1',bottom-h);l.setAttribute('y2',bottom);
      l.setAttribute('stroke','#b4b4b4');l.setAttribute('stroke-width','1.3');l.setAttribute('stroke-dasharray','2 4');
    });
    heightTicks.slice(1,5).forEach(function(km){
      const l=mk('line',gg,'grid-line-height');
      l.setAttribute('x1',left);l.setAttribute('x2',left+w);l.setAttribute('y1',sy(km));l.setAttribute('y2',sy(km));
      l.setAttribute('stroke','#b4b4b4');l.setAttribute('stroke-width','1.3');l.setAttribute('stroke-dasharray','2 4');
    });
  };
  P.contours=function(list,labels){
    const wrap=mk('g',plot,'contours-'+id);
    wrap.setAttribute('mask','url(#mask-'+id+')');
    list.forEach(function(c){
      const el=mk('path',wrap,'contour-line');
      el.setAttribute('d',openPath(proj(c)));
      el.setAttribute('fill','none');
      el.setAttribute('stroke','#000');
      el.setAttribute('stroke-width','2.1');
    });
    labels.forEach(function(lb){
      const cw=lb[0].length*10.5+6;
      const r=mk('rect',mask,'contour-label-gap');
      r.setAttribute('x',sx(lb[1])-cw/2);r.setAttribute('y',sy(lb[2])-8);
      r.setAttribute('width',cw);r.setAttribute('height',16);r.setAttribute('fill','#000');
      label(plot,'contour-label',lb[0],sx(lb[1]),sy(lb[2])+7,19,1,'middle','0.4');
    });
  };
  P.axes=function(){
    const ax=mk('g',g,'axes-'+id);
    const frame=mk('rect',ax,'plot-frame-'+id);
    frame.setAttribute('x',left);frame.setAttribute('y',bottom-h);frame.setAttribute('width',w);frame.setAttribute('height',h);
    frame.setAttribute('fill','none');frame.setAttribute('stroke','#222');frame.setAttribute('stroke-width','2');
    heightTicks.forEach(function(km){
      const t=mk('line',ax,'height-tick');
      t.setAttribute('x1',left-6);t.setAttribute('x2',left);t.setAttribute('y1',sy(km));t.setAttribute('y2',sy(km));
      t.setAttribute('stroke','#000');t.setAttribute('stroke-width','2');
      label(ax,'height-tick-label',String(km),left-13,sy(km)+9,25,0.86,'end','0.4');
    });
    latTicks.forEach(function(la,i){
      const t=mk('line',ax,'latitude-tick');
      t.setAttribute('x1',sx(la));t.setAttribute('x2',sx(la));t.setAttribute('y1',bottom);t.setAttribute('y2',bottom+6);
      t.setAttribute('stroke','#000');t.setAttribute('stroke-width','2');
      label(ax,'latitude-tick-label',latTickLabels[i],sx(la),bottom+29,24,0.85,'middle','0.4');
    });
    pressureTicks.forEach(function(p){
      const km=16.13*(3-Math.log10(p));
      const t=mk('line',ax,'pressure-tick');
      t.setAttribute('x1',left+w);t.setAttribute('x2',left+w+8);t.setAttribute('y1',sy(km));t.setAttribute('y2',sy(km));
      t.setAttribute('stroke','#000');t.setAttribute('stroke-width','2');
      label(ax,'pressure-tick-label',String(p),left+w+11,sy(km)+7,20,0.9,'start','0.4');
    });
  };
  return P;
}

function colorbar(name,x0,x1,top,bot,tipL,tipR,colors,labels,base){
  const g=mk('g',root,name);
  const n=labels.length-1, cw=(x1-x0)/n, mid=(top+bot)/2;
  const L=mk('path',g,name+'-low-arrow');
  L.setAttribute('d','M'+x0+','+top+'L'+tipL+','+mid+'L'+x0+','+bot+'Z');
  L.setAttribute('fill',colors[0]);L.setAttribute('stroke','#111');L.setAttribute('stroke-width','1.5');
  const R=mk('path',g,name+'-high-arrow');
  R.setAttribute('d','M'+x1+','+top+'L'+tipR+','+mid+'L'+x1+','+bot+'Z');
  R.setAttribute('fill',colors[colors.length-1]);R.setAttribute('stroke','#111');R.setAttribute('stroke-width','1.5');
  for(let i=0;i<n;i++){
    const c=mk('rect',g,name+'-cell');
    c.setAttribute('x',x0+i*cw);c.setAttribute('y',top);c.setAttribute('width',cw);c.setAttribute('height',bot-top);
    c.setAttribute('fill',colors[i+1]);c.setAttribute('stroke','#111');c.setAttribute('stroke-width','1.5');
  }
  labels.forEach(function(txt,i){
    const t=mk('text',g,name+'-label');
    t.setAttribute('x',x0+i*cw);t.setAttribute('y',base);
    t.setAttribute('font-size','18');t.setAttribute('text-anchor','middle');t.setAttribute('letter-spacing','0.6');
    t.textContent=txt;
  });
}

/* ---------- panel a ---------- */
const A=makePanel('a',65.3,515.2,barAColors[11]);
A.band(aLevel60,barAColors[12],'fill-60-80');
A.blob(aLevel80,barAColors[13],'fill-80-100');
A.blob(aLevel100,barAColors[14],'fill-100-120');
A.blob(aLevel120,barAColors[15],'fill-120-140');
A.blob(aPatch120,barAColors[15],'fill-120-140-patch');
A.blob(aLevel140,barAColors[16],'fill-140-160');
A.blob(aLevel160,barAColors[17],'fill-above-160');
A.band(zip(aBand40),barAColors[11],'fill-40-60');
A.band(zip(aBand20),barAColors[10],'fill-20-40');
A.band(zip(aBand0),barAColors[9],'fill-0-20');
A.band(zip(aBandM20),barAColors[8],'fill-minus20-0');
A.band(zip(aBandM40),barAColors[7],'fill-minus40-20');
A.band(zip(aBandM60),barAColors[6],'fill-minus60-40');
A.band(zip(aBandM80),barAColors[5],'fill-minus80-60');
A.blob(aPatchM100W,barAColors[4],'fill-minus100-80-west');
A.blob(aPatchM100S,barAColors[4],'fill-minus100-80-south');
A.blob(aPatchM100N,barAColors[4],'fill-minus100-80-north');
A.blob(aPatchM100E,barAColors[4],'fill-minus100-80-east');
A.blob(aPatchM120,barAColors[3],'fill-minus120-100');
A.band(zip(aLowM60),barAColors[6],'fill-low-minus60-40');
A.band(zip(aLowM40),barAColors[7],'fill-low-minus40-20');
A.band(zip(aLowM20),barAColors[8],'fill-low-minus20-0');
A.hatchPoly(zip(aHatchTop).concat(zip(aHatchBottom).reverse()),'significance-hatching-a');
A.grid();
A.contours([aC01,aC02,aC05,aC10,aC15,aC20,aC25,aC30].map(zip),aLabels);
A.axes();

/* ---------- panel b ---------- */
const B=makePanel('b',865.3,515.2,barBColors[10]);
B.blob(bLevel05,barBColors[11],'fill-0p5-1');
B.blob(bLevel1,barBColors[12],'fill-1-1p5');
B.blob(bLevel15,barBColors[13],'fill-1p5-2');
B.band(zip(bLav),barBColors[9],'fill-minus0p5-0');
B.band(zip(bM1),barBColors[8],'fill-minus1-0p5');
B.band(zip(bM15),barBColors[7],'fill-minus1p5-1');
B.band(zip(bM2),barBColors[6],'fill-minus2-1p5');
B.band(zip(bM25),barBColors[5],'fill-minus2p5-2');
B.band(zip(bM3),barBColors[4],'fill-minus3-2p5');
B.band(zip(bM35),barBColors[3],'fill-minus3p5-3');
B.band(zip(bM4),barBColors[2],'fill-minus4-3p5');
B.band(zip(bM45),barBColors[1],'fill-minus4p5-4');
B.band(zip(bDeep),barBColors[0],'fill-below-minus4p5');
B.hatchPoly(zip(bHatchTop).concat(zip(bHatchBottom).reverse()),'significance-hatching-b');
B.grid();
B.contours([bC1,bC2,bC5,bC10,bC15].map(zip),bLabels);
B.axes();

/* ---------- panel c ---------- */
const C=makePanel('c',65.3,1133.3,barCColors[5]);
C.blob(cUpperLav,barCColors[4],'fill-upper-minus20-0');
C.blob(cLowerLav,barCColors[4],'fill-lower-minus20-0');
C.blob(cBlue1,barCColors[3],'fill-minus40-20-tropics');
C.blob(cBlue2,barCColors[3],'fill-minus40-20-north');
C.blob(cW20,barCColors[6],'fill-west-20-40');
C.blob(cW40,barCColors[7],'fill-west-40-60');
C.blob(cW60,barCColors[8],'fill-west-60-80');
C.blob(cW80,barCColors[9],'fill-west-80-100');
C.blob(cW100,barCColors[10],'fill-west-100-120');
C.blob(cW120,barCColors[11],'fill-west-120-140');
C.blob(cW140,barCColors[12],'fill-west-140-160');
C.blob(cE20,barCColors[6],'fill-east-20-40');
C.blob(cE40,barCColors[7],'fill-east-40-60');
C.blob(cE40Low,barCColors[7],'fill-east-40-60-lower');
C.blob(cE60,barCColors[8],'fill-east-60-80');
C.hatchPoly(cHatchMain,'significance-hatching-main',cHatchHole);
C.hatchPoly(cHatchStrip1,'significance-hatching-strip');
C.hatchPoly(cHatchStrip2,'significance-hatching-strip');
C.hatchPoly(cHatchStrip3,'significance-hatching-strip');
C.hatchPoly(cHatchStrip4,'significance-hatching-strip');
C.hatchPoly(cHatchStrip5,'significance-hatching-strip');
C.grid();
C.contours([c200Top,c300Top,c400West,c500West,c400East,c500East,c300Mid,c200Mid,c100Mid,c100East,cWest1,cWest2,cWest3,cWest4,cWest5,cWest6,cWest7,cWest8,cEast1,cEast2,cEast3,cEast4],cLabels);
C.axes();

/* ---------- colour bars ---------- */
colorbar('colorbar-a',41.3,758.3,573.5,591.7,0,800,barAColors,barALabels,608);
colorbar('colorbar-b',836.7,1562.7,573.5,591.7,800,1600,barBColors,barBLabels,609);
colorbar('colorbar-c',54,745.4,1191.5,1210.7,0,800,barCColors,barCLabels,1226);
</script>
</body>
</html>
